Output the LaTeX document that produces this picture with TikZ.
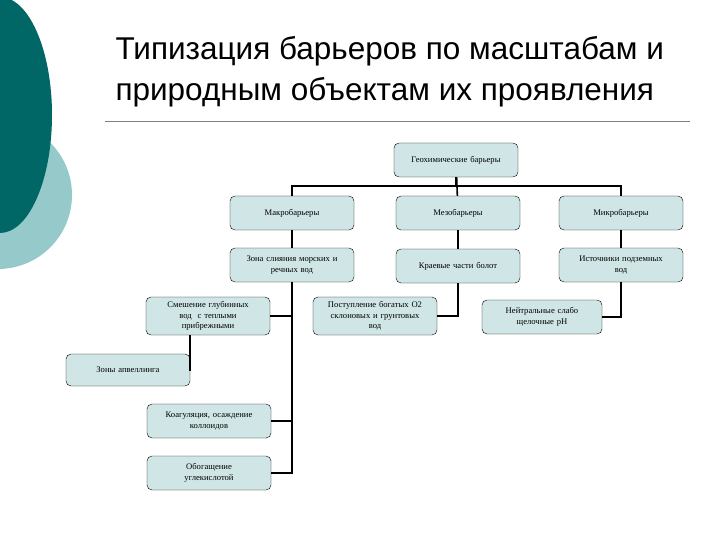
\documentclass[tikz,border=0pt]{standalone}
\usepackage{fontspec}
\setmainfont{Liberation Serif}
\newfontfamily\titlefont{Liberation Sans}
\definecolor{boxfill}{RGB}{208,230,230}
\definecolor{darkteal}{RGB}{0,102,102}
\definecolor{lightteal}{RGB}{150,202,202}
\begin{document}
\begin{tikzpicture}[x=1pt,y=-1pt,
  box/.style={draw,fill=boxfill,rounded corners=5pt,minimum width=124pt,minimum height=34pt,
    align=center,font=\fontsize{8.6}{10.5}\selectfont,text width=120pt,inner sep=1pt},
  link/.style={line width=1.6pt}]
  \useasboundingbox (0,0) rectangle (720,540);
  \fill[lightteal] (-2,195) circle (74);
  \fill[darkteal] (0,115) ellipse (52 and 118);
  \node[font=\titlefont\fontsize{31.5}{41}\selectfont,align=left,anchor=north west] (title) at (112,33)
    {Типизация барьеров по масштабам и\\природным объектам их проявления};
  \draw[gray] (105,121) -- (690,121);
  \node[box] (geo) at (456,160) {Геохимические барьеры};
  \node[box] (macro) at (292,213) {Макробарьеры};
  \node[box] (meso) at (458,213) {Мезобарьеры};
  \node[box] (micro) at (621,213) {Микробарьеры};
  \node[box] (zona) at (292,265) {Зона слияния морских и\\речных вод};
  \node[box] (kraev) at (458,266) {Краевые части болот};
  \node[box] (istoch) at (621,265) {Источники подземных\\вод};
  \node[box,minimum height=38pt] (smesh) at (208,316) {Смешение глубинных\\вод \ с теплыми\\прибрежными};
  \node[box,minimum height=38pt] (postup) at (375,316) {Поступление богатых O2\\склоновых и грунтовых\\вод};
  \node[box,minimum width=120pt,text width=116pt] (neutr) at (542,317) {Нейтральные слабо\\щелочные pH};
  \node[box,minimum height=32pt] (upw) at (128,370) {Зоны апвеллинга};
  \node[box] (koag) at (209,421) {Коагуляция, осаждение\\коллоидов};
  \node[box] (obog) at (209,473) {Обогащение\\углекислотой};
  \coordinate (bus) at (456,186);
  \draw[link] (geo) -- (bus);
  \draw[link] (macro.north) |- (bus) -| (micro.north);
  \draw[link] (geo) -- (meso);
  \draw[link] (macro) -- (zona);
  \draw[link] (meso) -- (kraev);
  \draw[link] (micro) -- (istoch);
  \draw[link] (zona.south) |- (obog.east);
  \draw[link] (zona.south |- smesh.east) -- (smesh.east);
  \draw[link] (zona.south |- koag.east) -- (koag.east);
  \draw[link] (smesh.south -| 190,0) |- (upw.east);
  \draw[link] (kraev.south) |- (postup.east);
  \draw[link] (istoch.south) |- (neutr.east);
\end{tikzpicture}
\end{document}
